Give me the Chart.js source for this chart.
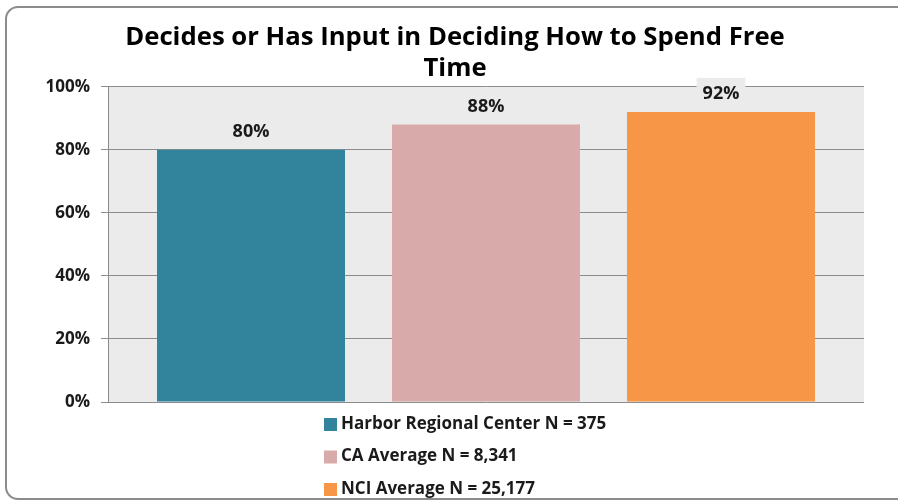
<!DOCTYPE html>
<html>
<head>
<meta charset="utf-8">
<script src="https://cdn.jsdelivr.net/npm/chart.js@4.4.1/dist/chart.umd.min.js"></script>
<style>
  html, body { margin: 0; padding: 0; background: #fff; }
  #wrap { position: relative; width: 898px; height: 500px; overflow: hidden; }
  #frame { position: absolute; left: 5px; top: 6px; width: 905px; height: 494px;
           border: 2px solid #8c8c8c; border-radius: 13px; box-sizing: border-box; }
  #chart { position: absolute; left: 0; top: 0; }
</style>
</head>
<body>
<div id="wrap">
  <div id="frame"></div>
  <canvas id="chart" width="898" height="500"></canvas>
</div>
<script>
const titleLines = ['Decides or Has Input in Deciding How to Spend Free', 'Time'];
const categories = ['Decides or Has Input'];
const seriesNames = ['Harbor Regional Center N = 375', 'CA Average N = 8,341', 'NCI Average N = 25,177'];
const seriesValues = [80, 88, 92];
const seriesColors = ['#31849b', '#d9aaaa', '#f79646'];
const yTicks = [0, 20, 40, 60, 80, 100];

const FONT = '"Open Sans", "DejaVu Sans", sans-serif';
const plotBg = '#ebebeb';

// grey plot area behind the grid
const plotBackground = {
  id: 'plotBackground',
  beforeDraw(chart) {
    const { ctx, chartArea: a } = chart;
    ctx.save();
    ctx.fillStyle = plotBg;
    ctx.fillRect(a.left, a.top, a.right - a.left, a.bottom - a.top);
    ctx.restore();
  }
};

// value labels above bars
const valueLabels = {
  id: 'valueLabels',
  afterDatasetsDraw(chart) {
    const ctx = chart.ctx;
    ctx.save();
    ctx.font = 'bold 18px ' + FONT;
    ctx.textAlign = 'center';
    ctx.textBaseline = 'middle';
    chart.data.datasets.forEach((ds, i) => {
      const bar = chart.getDatasetMeta(i).data[0];
      const txt = ds.data[0] + '%';
      const y = bar.y - 18;
      const w = ctx.measureText(txt).width + 12;
      ctx.fillStyle = plotBg;
      ctx.fillRect(bar.x - w / 2, y - 16, w, 32);
      ctx.fillStyle = '#1a1a1a';
      ctx.fillText(txt, bar.x, y);
    });
    ctx.restore();
  }
};

// one-item-per-row legend under the plot
const columnLegend = {
  id: 'columnLegend',
  afterDraw(chart) {
    const ctx = chart.ctx;
    ctx.save();
    ctx.font = 'bold 17px ' + FONT;
    ctx.textBaseline = 'middle';
    chart.data.datasets.forEach((ds, i) => {
      const y = chart.chartArea.bottom + 22 + i * 32.5;
      ctx.fillStyle = ds.backgroundColor;
      ctx.fillRect(324, y - 6, 13, 13);
      ctx.fillStyle = '#1a1a1a';
      ctx.fillText(ds.label, 341, y);
    });
    ctx.restore();
  }
};

new Chart(document.getElementById('chart'), {
  type: 'bar',
  data: {
    labels: categories,
    datasets: seriesNames.map((name, i) => ({
      label: name,
      data: [seriesValues[i]],
      backgroundColor: seriesColors[i],
      categoryPercentage: 0.9325,
      barPercentage: 0.8,
    })),
  },
  options: {
    responsive: false,
    animation: false,
    layout: { padding: { left: 12, right: 0, top: 0, bottom: 98 } },
    plugins: {
      legend: { display: false },
      tooltip: { enabled: false },
      title: {
        display: true,
        text: titleLines,
        color: '#000',
        font: { family: FONT, size: 25.7, weight: 'bold', lineHeight: 1.2 },
        padding: { top: 22, bottom: 3 },
      },
    },
    scales: {
      x: { display: false },
      y: {
        min: 0,
        max: 100,
        afterFit(scale) { scale.width = 96; },
        afterBuildTicks(scale) { scale.ticks = yTicks.map((v) => ({ value: v })); },
        ticks: {
          padding: 11,
          color: '#1a1a1a',
          font: { family: FONT, size: 17, weight: 'bold' },
          callback: (v) => v + '%',
        },
        grid: { color: '#8c8c8c', tickLength: 7, tickColor: '#8c8c8c' },
        border: { color: '#8c8c8c' },
      },
      y2: {
        position: 'right',
        display: true,
        afterFit(scale) { scale.width = 34; },
        ticks: { display: false },
        grid: { display: false },
        border: { display: false },
      },
    },
  },
  plugins: [plotBackground, valueLabels, columnLegend],
});
</script>
</body>
</html>
